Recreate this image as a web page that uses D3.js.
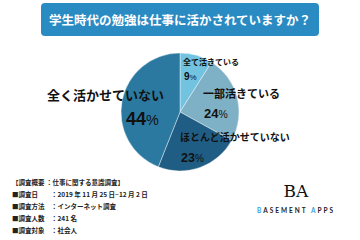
<!DOCTYPE html>
<html lang="ja">
  <head>
    <meta charset="UTF-8" />
    <title>学生時代の勉強</title>
    <style>
      body { margin: 0; background: #fff; }
      svg { display: block; font-family: "Noto Sans CJK JP", sans-serif; }
    </style>
  </head>
  <body>
    <script src="https://cdn.jsdelivr.net/npm/d3@7"></script>
    <script>
      // データ
      const categories = ["全て活きている", "一部活きている", "ほとんど活かせていない", "全く活かせていない"];
      const values = [9, 24, 23, 44];
      const colors = ["#72c3e0", "#7eb0c6", "#1f5d84", "#2b79a1"];
      const notes = [
        "【調査概要 ：仕事に関する意識調査】",
        "■調査日　　：2019 年 11 月 25 日~12 月 2 日",
        "■調査方法　：インターネット調査",
        "■調査人数　：241 名",
        "■調査対象　：社会人"
      ];

      const W = 360, H = 240;
      const svg = d3.select("body").append("svg").attr("width", W).attr("height", H);

      // タイトル
      svg.append("rect")
        .attr("x", 41).attr("y", 3).attr("width", 278).attr("height", 33)
        .attr("rx", 4).attr("fill", "#2a8bc3");
      svg.append("text")
        .attr("x", 180).attr("y", 25)
        .attr("text-anchor", "middle")
        .attr("fill", "#fff").attr("font-size", 12.5).attr("font-weight", "bold")
        .text("学生時代の勉強は仕事に活かされていますか？");

      // パイ
      const cx = 180, cy = 112, r = 59;
      const pie = d3.pie().sort(null).value((d) => d);
      const arc = d3.arc().innerRadius(0).outerRadius(r);
      const g = svg.append("g").attr("transform", `translate(${cx},${cy})`);
      g.selectAll("path")
        .data(pie(values))
        .enter()
        .append("path")
        .attr("d", arc)
        .attr("fill", (d, i) => colors[i])
        .attr("stroke", "#fff")
        .attr("stroke-width", 0.4);

      // ラベル (カテゴリ名, %)
      const labels = [
        { x: 183, y: 65, fs: 8, py: 80, pfs: 10 },
        { x: 203, y: 98, fs: 11, py: 118, pfs: 13 },
        { x: 180, y: 141, fs: 10, py: 162, pfs: 12.5 },
        { x: 47, y: 100, fs: 13, py: 125, pfs: 18 }
      ];
      labels.forEach((l, i) => {
        svg.append("text")
          .attr("x", l.x).attr("y", l.y)
          .attr("font-size", l.fs).attr("font-weight", "bold").attr("fill", "#111")
          .text(categories[i]);
        const pct = svg.append("text")
          .attr("x", i === 3 ? 126 : l.x + 1).attr("y", l.py)
          .attr("font-family", "Liberation Sans, Arial, sans-serif")
          .attr("font-size", l.pfs).attr("font-weight", "bold").attr("fill", "#111");
        pct.append("tspan").text(values[i]);
        pct.append("tspan").attr("font-size", l.pfs * 0.8).attr("font-weight", "normal").text("%");
      });

      // 調査概要
      svg.selectAll(".note")
        .data(notes)
        .enter()
        .append("text")
        .attr("class", "note")
        .attr("x", 12)
        .attr("y", (d, i) => 185 + i * 12)
        .attr("font-size", 6.5).attr("font-weight", "bold").attr("fill", "#222")
        .text((d) => d);

      // ロゴ
      svg.append("text")
        .attr("x", 296).attr("y", 197)
        .attr("text-anchor", "middle")
        .attr("font-family", "DejaVu Serif, serif")
        .attr("font-size", 17).attr("fill", "#111")
        .text("BA");
      const logo = svg.append("text")
        .attr("x", 296).attr("y", 213)
        .attr("text-anchor", "middle")
        .attr("font-family", "Lato, sans-serif")
        .attr("font-size", 6.5).attr("font-weight", "bold")
        .attr("letter-spacing", 2).attr("fill", "#222");
      logo.append("tspan").attr("fill", "#3aa0d8").text("B");
      logo.append("tspan").text("ASEMENT ");
      logo.append("tspan").attr("fill", "#3aa0d8").text("A");
      logo.append("tspan").text("PPS");
    </script>
  </body>
</html>
